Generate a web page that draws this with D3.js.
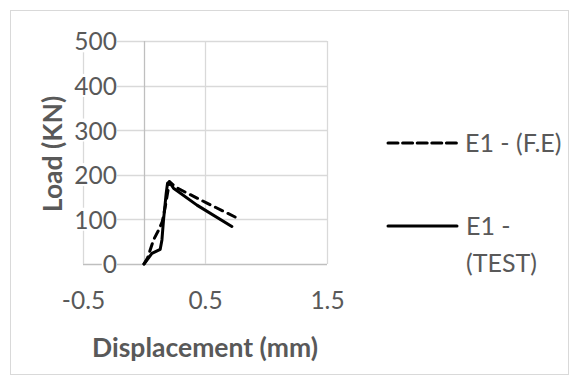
<!DOCTYPE html>
<html>
<head>
<meta charset="utf-8">
<script src="https://cdn.jsdelivr.net/npm/d3@7"></script>
<style>
  html, body { margin: 0; padding: 0; background: #ffffff; }
  svg { display: block; }
  text { font-family: Lato, "Open Sans", sans-serif; fill: #595959; }
</style>
</head>
<body>
<svg id="chart" width="579" height="385"></svg>
<script>
// ---- data ----
const seriesNames = ["E1 - (F.E)", "E1 - (TEST)"];
const feX   = [0, 0.03, 0.078, 0.12, 0.15, 0.174, 0.2, 0.209, 0.26, 0.52, 0.75];
const feY   = [0, 14, 54, 76, 95, 128, 170, 185, 172, 136, 105];
const testX = [0, 0.065, 0.133, 0.147, 0.16, 0.182, 0.193, 0.207, 0.242, 0.434, 0.72];
const testY = [0, 24, 33, 54, 99, 159, 181, 184, 170, 132, 84];
const xTicks = [-0.5, 0.5, 1.5];
const yTicks = [0, 100, 200, 300, 400, 500];
const xTitle = "Displacement (mm)";
const yTitle = "Load (KN)";

// ---- layout ----
const svg = d3.select("#chart");
const W = 579, H = 385;
const plot = { left: 83, right: 327, top: 41, bottom: 264 };

svg.append("rect").attr("x", 10.5).attr("y", 10.5).attr("width", W - 21).attr("height", H - 21)
  .attr("fill", "#fff").attr("stroke", "#d9d9d9").attr("stroke-width", 1);

const x = d3.scaleLinear().domain([-0.5, 1.5]).range([plot.left, plot.right]);
const y = d3.scaleLinear().domain([0, 500]).range([plot.bottom, plot.top]);

// gridlines
const grid = svg.append("g");
grid.selectAll("line.h").data(yTicks).enter().append("line")
  .attr("x1", plot.left).attr("x2", plot.right)
  .attr("y1", d => Math.round(y(d)) + 0.5).attr("y2", d => Math.round(y(d)) + 0.5)
  .attr("stroke", d => d === 0 ? "#bfbfbf" : "#d9d9d9").attr("stroke-width", 1.3);
grid.selectAll("line.v").data(xTicks).enter().append("line")
  .attr("y1", plot.top).attr("y2", plot.bottom)
  .attr("x1", d => Math.round(x(d)) + 0.5).attr("x2", d => Math.round(x(d)) + 0.5)
  .attr("stroke", "#d9d9d9").attr("stroke-width", 1.3);
// vertical axis line at x = 0
svg.append("line")
  .attr("x1", Math.round(x(0)) + 0.5).attr("x2", Math.round(x(0)) + 0.5)
  .attr("y1", plot.top).attr("y2", plot.bottom)
  .attr("stroke", "#bfbfbf").attr("stroke-width", 1.3);

// y axis tick labels (next to axis at x=0)
const yAxis = d3.axisLeft(y).tickValues(yTicks).tickSize(0).tickPadding(0).tickFormat(d3.format("d"));
const gy = svg.append("g").attr("transform", `translate(${117},0)`).call(yAxis);
gy.select(".domain").remove();
gy.selectAll("text").style("font-size", "24.5px").attr("fill", "#595959")
  .attr("font-family", "Lato").attr("dy", "0.36em");
gy.selectAll(".tick").each(function() {
  const t = d3.select(this).select("text").node();
  const b = t.getBBox();
  d3.select(this).insert("rect", "text")
    .attr("x", b.x - 1).attr("y", b.y + 3).attr("width", b.width + 1).attr("height", b.height - 6)
    .attr("fill", "#fff");
});

// x axis tick labels (hyphen-minus as in the original)
const fmtX = d => d3.format(".1f")(d).replace("\u2212", "-");
const xAxis = d3.axisBottom(x).tickValues(xTicks).tickSize(0).tickPadding(0).tickFormat(fmtX);
const gx = svg.append("g").attr("transform", `translate(0,${292})`).call(xAxis);
gx.select(".domain").remove();
gx.selectAll("text").style("font-size", "24.5px").attr("fill", "#595959").attr("font-family", "Lato");

// axis titles
svg.append("text").attr("x", 205).attr("y", 357).attr("text-anchor", "middle")
  .style("font-size", "26.5px").style("font-weight", "bold").text(xTitle);
svg.append("text").attr("transform", `translate(${62},${154}) rotate(-90)`).attr("text-anchor", "middle")
  .style("font-size", "26.5px").style("font-weight", "bold").text(yTitle);

// series
const line = d3.line().x(d => x(d[0])).y(d => y(d[1]));
const fePts = feX.map((v, i) => [v, feY[i]]);
const testPts = testX.map((v, i) => [v, testY[i]]);
svg.append("path").datum(testPts).attr("d", line).attr("fill", "none")
  .attr("stroke", "#000").attr("stroke-width", 3).attr("stroke-linejoin", "round").attr("stroke-linecap", "round");
svg.append("path").datum(fePts).attr("d", line).attr("fill", "none")
  .attr("stroke", "#000").attr("stroke-width", 3).attr("stroke-dasharray", "8,6")
  .attr("stroke-linejoin", "round").attr("stroke-linecap", "round");

// legend
const lg = svg.append("g");
lg.append("line").attr("x1", 388).attr("x2", 457).attr("y1", 143).attr("y2", 143)
  .attr("stroke", "#000").attr("stroke-width", 3).attr("stroke-dasharray", "10,4.6").attr("stroke-linecap", "round");
lg.append("text").attr("x", 465).attr("y", 143).attr("dy", "0.36em").style("font-size", "25px").text(seriesNames[0]);
lg.append("line").attr("x1", 388).attr("x2", 457).attr("y1", 226).attr("y2", 226)
  .attr("stroke", "#000").attr("stroke-width", 3).attr("stroke-linecap", "round");
const t2 = lg.append("text").attr("x", 466).attr("y", 226).attr("dy", "0.36em").style("font-size", "25px");
const parts = seriesNames[1].split(" (");
t2.append("tspan").attr("x", 466).text(parts[0]);
t2.append("tspan").attr("x", 466).attr("dy", 37).text("(" + parts[1]);
</script>
</body>
</html>
